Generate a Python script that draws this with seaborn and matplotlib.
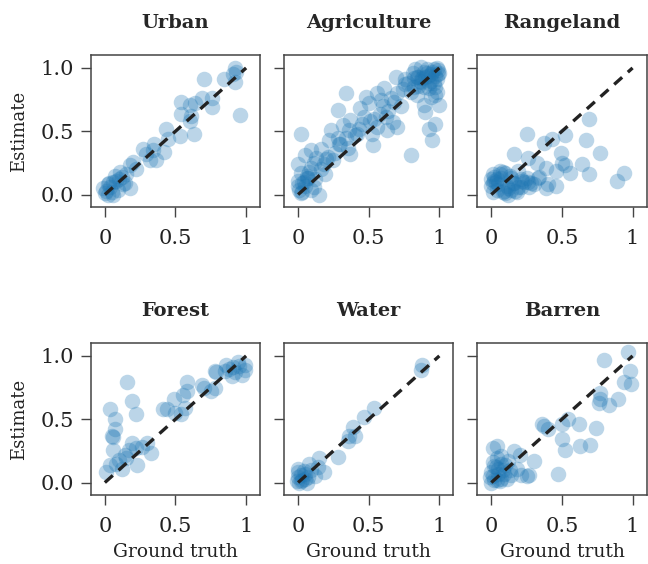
import numpy as np
import pandas as pd
import matplotlib
matplotlib.use("Agg")
import matplotlib.pyplot as plt
import seaborn as sns

classes = ["Urban", "Agriculture", "Rangeland", "Forest", "Water", "Barren"]

urban_truth = [0.92, 0.93, 0.91, 0.84, 0.70, 0.92, 0.96, 0.76, 0.69, 0.76, 0.64, 0.60, 0.54, 0.54,
               0.61, 0.60, 0.63, 0.53, 0.43, 0.45, 0.35, 0.34, 0.42, 0.27, 0.29, 0.36, 0.32, 0.20,
               0.22, 0.18, 0.15, 0.11, 0.07, 0.18, 0.13, 0.0, 0.01, 0.04, 0.02, 0.06, 0.08, -0.01,
               0.05, 0.09, 0.03, 0.10, 0.12, 0.06, 0.02, 0.14]
urban_est = [1.0, 0.97, 0.95, 0.91, 0.91, 0.89, 0.63, 0.76, 0.76, 0.69, 0.72, 0.71, 0.73, 0.64,
             0.62, 0.58, 0.48, 0.46, 0.52, 0.44, 0.40, 0.35, 0.34, 0.36, 0.32, 0.27, 0.27, 0.26,
             0.20, 0.23, 0.16, 0.18, 0.15, 0.05, 0.08, 0.01, 0.03, 0.06, 0.08, 0.10, 0.11, 0.05,
             0.02, 0.04, 0.09, 0.12, 0.14, 0.0, 0.0, 0.09]

agri_truth = [0.87, 0.98, 0.81, 0.84, 0.94, 0.98, 0.69, 0.76, 0.96, 0.89, 0.98, 0.84, 0.94, 0.89,
              0.90, 1.0, 0.97, 0.93, 0.95, 0.80, 0.74, 0.70, 0.66, 0.61, 0.68, 0.56, 0.59, 0.48,
              0.50, 0.44, 0.34, 0.28, 0.47, 0.54, 0.62, 0.67, 0.56, 0.63, 0.70, 0.52, 0.53, 0.42,
              0.36, 0.37, 0.32, 0.23, 0.22, 0.28, 0.34, 0.35, 0.37, 0.02, 0.16, 0.09, 0.05, 0.13,
              0.20, 0.25, 0.0, 0.09, 0.16, 0.02, 0.06, 0.12, 0.0, 0.0, 0.05, 0.01, 0.09, 0.15,
              0.02, 0.78, 0.82, 0.91, 0.96, 1.0, 0.87, 0.93, 0.80, 0.97, 0.83, 0.90, 0.99, 0.86,
              0.92, 0.95, 0.88, 0.85, 0.97, 0.93, 0.04, 0.07, 0.11, 0.03, 0.19, 0.99, 0.94, 0.89,
              0.97, 0.85, 0.58, 0.45, 0.40, 0.30, 0.26, 0.18, 0.08, 0.03, 0.73, 0.64, 0.51, 0.11,
              0.06, 0.21, 0.29, 0.43, 0.60, 0.76, 0.82, 0.91]
agri_est = [1.01, 1.0, 0.96, 0.93, 0.95, 0.91, 0.93, 0.91, 0.88, 0.85, 0.81, 0.79, 0.77, 0.71,
            0.65, 0.71, 0.56, 0.52, 0.43, 0.31, 0.83, 0.80, 0.76, 0.84, 0.73, 0.80, 0.75, 0.77,
            0.72, 0.68, 0.80, 0.67, 0.61, 0.60, 0.61, 0.57, 0.53, 0.51, 0.53, 0.48, 0.39, 0.48,
            0.51, 0.59, 0.55, 0.51, 0.43, 0.45, 0.45, 0.37, 0.32, 0.48, 0.36, 0.35, 0.31, 0.29,
            0.28, 0.27, 0.24, 0.21, 0.20, 0.17, 0.15, 0.12, 0.11, 0.07, 0.07, 0.04, 0.04, 0.0,
            0.01, 0.88, 0.85, 0.99, 0.99, 0.96, 0.89, 0.84, 0.81, 0.79, 0.99, 0.93, 0.98, 0.90,
            0.94, 0.97, 0.92, 0.86, 0.94, 0.88, 0.10, 0.13, 0.06, 0.02, 0.16, 0.95, 0.90, 0.97,
            0.85, 0.93, 0.64, 0.56, 0.47, 0.40, 0.33, 0.24, 0.18, 0.09, 0.70, 0.66, 0.58, 0.25,
            0.13, 0.30, 0.40, 0.52, 0.70, 0.87, 0.92, 0.96]

range_truth = [0.69, 0.25, 0.37, 0.43, 0.52, 0.67, 0.77, 0.16, 0.26, 0.32, 0.49, 0.50, 0.52, 0.64,
               0.56, 0.69, 0.94, 0.89, 0.39, 0.46, 0.33, 0.40, 0.46, 0.39, 0.28, 0.25, 0.19, 0.14,
               0.01, 0.02, 0.05, 0.07, 0.09, 0.11, 0.04, 0.0, 0.06, 0.10, 0.14, 0.16, 0.19, 0.21,
               0.0, 0.08, 0.01, 0.13, 0.21, 0.27, 0.30, 0.23, 0.03, 0.12, 0.02, 0.08, 0.17, 0.04,
               0.10, 0.15, 0.22, 0.06, 0.12, 0.18, 0.01, 0.26, 0.34]
range_est = [0.60, 0.48, 0.41, 0.44, 0.47, 0.43, 0.33, 0.32, 0.29, 0.25, 0.33, 0.25, 0.23, 0.24,
             0.17, 0.16, 0.17, 0.11, 0.21, 0.19, 0.13, 0.08, 0.07, 0.05, 0.09, 0.13, 0.19, 0.13,
             0.16, 0.11, 0.08, 0.13, 0.03, 0.07, 0.04, 0.07, 0.19, 0.17, 0.04, 0.09, 0.06, 0.12,
             0.12, 0.02, 0.02, 0.15, 0.06, 0.06, 0.08, 0.10, 0.10, 0.0, 0.14, 0.18, 0.03, 0.12,
             0.01, 0.09, 0.11, 0.16, 0.05, 0.02, 0.09, 0.10, 0.14]

forest_truth = [0.16, 0.19, 0.22, 0.04, 0.07, 0.07, 0.06, 0.06, 0.04, 0.01, 0.08, 0.12, 0.14, 0.17,
                0.19, 0.22, 0.26, 0.30, 0.33, 0.23, 0.15, 0.41, 0.44, 0.49, 0.50, 0.54, 0.57, 0.55,
                0.58, 0.58, 0.69, 0.70, 0.75, 0.78, 0.79, 0.78, 0.86, 0.85, 0.90, 0.92, 0.97, 0.99,
                0.95, 0.99, 0.91, 0.05, 0.10, 0.88, 0.94]
forest_est = [0.79, 0.64, 0.54, 0.58, 0.50, 0.42, 0.36, 0.26, 0.14, 0.08, 0.15, 0.11, 0.22, 0.26,
              0.31, 0.27, 0.28, 0.31, 0.23, 0.14, 0.19, 0.58, 0.58, 0.66, 0.55, 0.54, 0.59, 0.69,
              0.72, 0.79, 0.77, 0.75, 0.72, 0.75, 0.87, 0.88, 0.93, 0.88, 0.84, 0.87, 0.85, 0.93,
              0.92, 0.89, 0.91, 0.37, 0.18, 0.90, 0.95]

water_truth = [0.88, 0.87, 0.54, 0.47, 0.39, 0.40, 0.35, 0.36, 0.28, 0.15, 0.18, 0.14, 0.08, 0.0,
               0.0, 0.02, 0.05, 0.07, 0.01, 0.09, 0.04, -0.01, 0.06, 0.12, 0.02, 0.03, 0.0, 0.05]
water_est = [0.93, 0.89, 0.59, 0.52, 0.44, 0.37, 0.33, 0.37, 0.20, 0.19, 0.08, 0.12, 0.15, 0.11,
             0.04, 0.01, 0.07, 0.04, 0.0, 0.10, 0.09, 0.01, 0.0, 0.05, 0.06, 0.02, 0.08, 0.03]

barren_truth = [0.97, 0.80, 0.98, 0.94, 0.99, 0.77, 0.77, 0.76, 0.83, 0.90, 0.36, 0.37, 0.40, 0.50,
                0.54, 0.62, 0.74, 0.50, 0.52, 0.63, 0.70, 0.47, 0.30, 0.27, 0.01, 0.04, 0.16, 0.20,
                0.04, 0.07, 0.12, 0.18, 0.21, 0.25, 0.14, 0.0, 0.01, 0.02, 0.05, 0.07, 0.09, 0.0,
                0.06, 0.11, 0.13, 0.02, 0.05, 0.08, -0.01, 0.01, 0.07, 0.03, 0.10, 0.04]
barren_est = [1.03, 0.97, 0.88, 0.79, 0.78, 0.71, 0.66, 0.63, 0.61, 0.66, 0.46, 0.45, 0.42, 0.46,
              0.50, 0.46, 0.43, 0.34, 0.26, 0.29, 0.30, 0.07, 0.17, 0.06, 0.27, 0.29, 0.25, 0.22,
              0.19, 0.15, 0.17, 0.11, 0.06, 0.05, 0.06, 0.08, 0.05, 0.02, 0.07, 0.03, 0.07, 0.0,
              0.01, 0.03, 0.10, 0.13, 0.11, 0.10, 0.04, 0.16, 0.21, 0.12, 0.14, 0.02]

truths = [urban_truth, agri_truth, range_truth, forest_truth, water_truth, barren_truth]
ests = [urban_est, agri_est, range_est, forest_est, water_est, barren_est]

sns.set_style("ticks")
plt.rcParams['font.family'] = ['DejaVu Serif']

fig, axes = plt.subplots(2, 3, figsize=(6.48, 5.64), dpi=100, sharex=True, sharey=True)
plt.subplots_adjust(left=0.14, right=0.998, top=0.902, bottom=0.122, wspace=0.14, hspace=0.895)

for ax, name, xt, ye in zip(axes.flat, classes, truths, ests):
    df = pd.DataFrame({'truth': xt, 'est': ye})
    sns.scatterplot(data=df, x='truth', y='est', ax=ax, color='#1f77b4', alpha=0.3,
                    s=125, linewidth=0)
    ax.plot([0, 1], [0, 1], ls=(0, (3.2, 2.3)), color='#222222', lw=2.4)
    ax.set_title(name, fontweight='bold', fontsize=14, pad=19.5)
    ax.set_xlim(-0.1, 1.1)
    ax.set_ylim(-0.1, 1.1)
    ax.set_xticks([0, 0.5, 1])
    ax.set_xticklabels(['0', '0.5', '1'])
    ax.set_yticks([0, 0.5, 1])
    ax.set_yticklabels(['0.0', '0.5', '1.0'])
    ax.tick_params(colors='#444444', labelcolor='#222222', length=7, width=1,
                   labelsize=15)
    ax.tick_params(axis='x', pad=8.5)
    ax.tick_params(axis='y', pad=5)
    ax.xaxis.set_tick_params(labelbottom=True)
    ax.set_xlabel('Ground truth', color='#222222', fontsize=13.5, labelpad=5.5)
    ax.set_ylabel('')
    for sp in ax.spines.values():
        sp.set_color('#444444')
        sp.set_linewidth(1.1)

axes[0, 0].set_ylabel('Estimate', color='#222222', fontsize=13, labelpad=9)
axes[1, 0].set_ylabel('Estimate', color='#222222', fontsize=13, labelpad=9)

plt.savefig('out.png', dpi=100)
